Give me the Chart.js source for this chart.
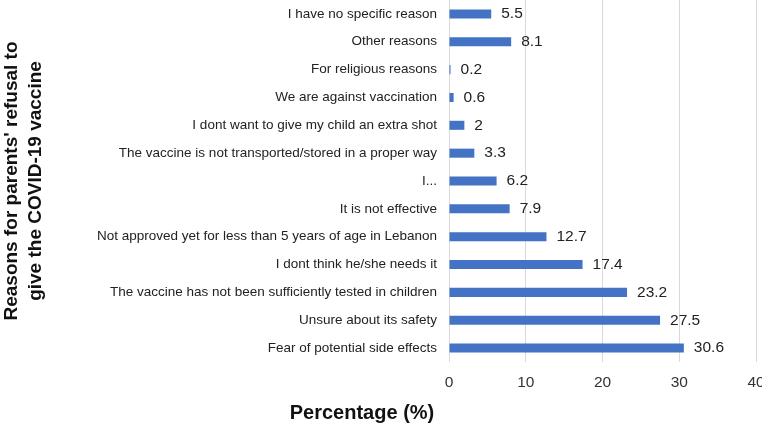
<!DOCTYPE html>
<html>
<head>
<meta charset="utf-8">
<script src="https://cdn.jsdelivr.net/npm/chart.js@4"></script>
<style>
  html, body { margin: 0; padding: 0; background: #fff; }
  #wrap { width: 762px; height: 425px; position: relative; }
</style>
</head>
<body>
<div id="wrap"><canvas id="chart"></canvas></div>
<script>
// reasons, top to bottom as they appear
const reasons = [
    'I have no specific reason',
    'Other reasons',
    'For religious reasons',
    'We are against vaccination',
    'I dont want to give my child an extra shot',
    'The vaccine is not transported/stored in a proper way',
    'I...',
    'It is not effective',
    'Not approved yet for less than 5 years of age in Lebanon',
    'I dont think he/she needs it',
    'The vaccine has not been sufficiently tested in children',
    'Unsure about its safety',
    'Fear of potential side effects'
];
const percentages = [5.5, 8.1, 0.2, 0.6, 2, 3.3, 6.2, 7.9, 12.7, 17.4, 23.2, 27.5, 30.6];
const xTicks = [0, 10, 20, 30, 40];

const FONT = '"Liberation Sans", Arial, sans-serif';

// draws the number just past the end of each bar, and the x title
const extras = {
    id: 'extras',
    afterDatasetsDraw(chart) {
        const ctx = chart.ctx;
        const meta = chart.getDatasetMeta(0);
        ctx.save();
        ctx.font = '15.5px ' + FONT;
        ctx.fillStyle = '#222';
        ctx.textBaseline = 'middle';
        ctx.textAlign = 'left';
        meta.data.forEach((bar, i) => {
            ctx.fillText(String(percentages[i]), bar.x + 10, bar.y);
        });
        // the x title sits left of the plot centre in the original
        ctx.font = 'bold 20px ' + FONT;
        ctx.fillStyle = '#111';
        ctx.textAlign = 'center';
        ctx.textBaseline = 'alphabetic';
        ctx.fillText('Percentage (%)', 362, 419);
        ctx.restore();
    }
};

new Chart(document.getElementById('chart'), {
    type: 'bar',
    data: {
        labels: reasons,
        datasets: [{
            data: percentages,
            backgroundColor: '#4472C4',
            borderWidth: 0,
            barPercentage: 0.65,
            categoryPercentage: 0.5
        }]
    },
    options: {
        indexAxis: 'y',
        responsive: true,
        maintainAspectRatio: false,
        animation: false,
        layout: { padding: { top: 0, right: 6, left: 0, bottom: 0 } },
        plugins: {
            legend: { display: false },
            tooltip: { enabled: false }
        },
        scales: {
            x: {
                min: 0,
                max: 40,
                afterBuildTicks: axis => { axis.ticks = xTicks.map(v => ({ value: v })); },
                afterFit: axis => {
                    axis.height = 63;
                    axis.paddingLeft = 0;
                    axis.paddingRight = 0;
                },
                grid: { color: '#d9d9d9', drawTicks: false },
                border: { display: false },
                ticks: { font: { family: FONT, size: 15.5 }, color: '#333', padding: 11 }
            },
            y: {
                afterFit: axis => {
                    axis.width = 449;
                    axis.paddingTop = 0;
                    axis.paddingBottom = 0;
                },
                grid: { display: false, drawTicks: false },
                border: { display: false },
                ticks: { font: { family: FONT, size: 13.5 }, color: '#222', padding: 12 },
                title: {
                    display: true,
                    text: ["Reasons for parents' refusal to", 'give the COVID-19 vaccine'],
                    font: { family: FONT, size: 19, weight: 'bold', lineHeight: 1.25 },
                    color: '#111',
                    padding: { top: 0, bottom: 0 }
                }
            }
        }
    },
    plugins: [extras]
});
</script>
</body>
</html>
